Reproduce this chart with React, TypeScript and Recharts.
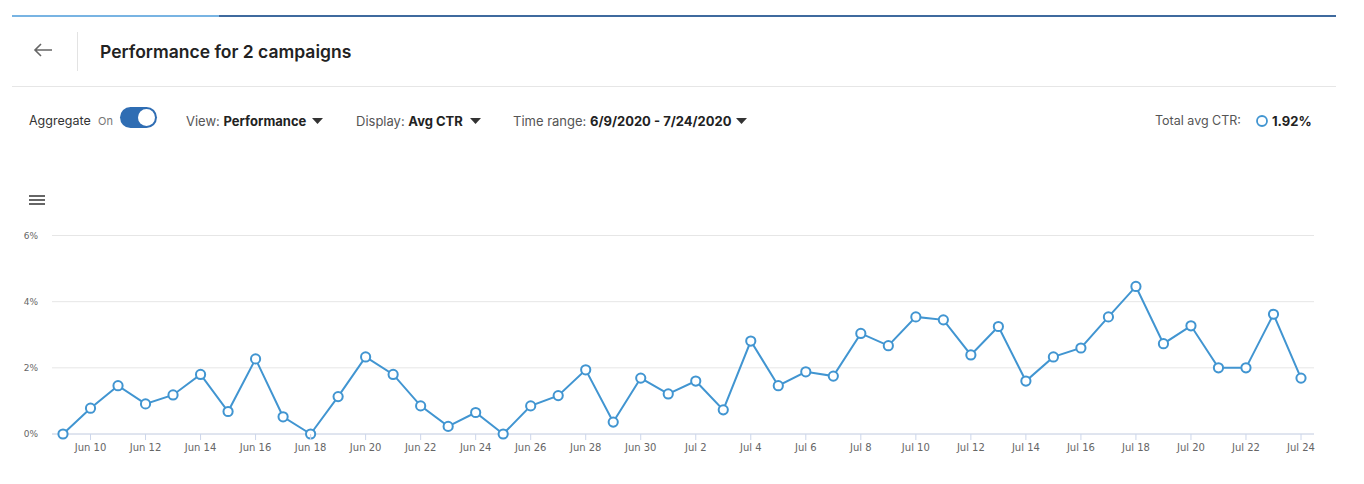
import React from 'react';
import { LineChart, Line, XAxis, YAxis, CartesianGrid } from 'recharts';

const DAYS = [
    'Jun 9', 'Jun 10', 'Jun 11', 'Jun 12', 'Jun 13', 'Jun 14', 'Jun 15', 'Jun 16', 'Jun 17', 'Jun 18',
    'Jun 19', 'Jun 20', 'Jun 21', 'Jun 22', 'Jun 23', 'Jun 24', 'Jun 25', 'Jun 26', 'Jun 27', 'Jun 28',
    'Jun 29', 'Jun 30', 'Jul 1', 'Jul 2', 'Jul 3', 'Jul 4', 'Jul 5', 'Jul 6', 'Jul 7', 'Jul 8',
    'Jul 9', 'Jul 10', 'Jul 11', 'Jul 12', 'Jul 13', 'Jul 14', 'Jul 15', 'Jul 16', 'Jul 17', 'Jul 18',
    'Jul 19', 'Jul 20', 'Jul 21', 'Jul 22', 'Jul 23', 'Jul 24',
];

// avg CTR in %
const CTR = [
    0, 0.78, 1.46, 0.91, 1.18, 1.8, 0.68, 2.27, 0.52, 0,
    1.13, 2.33, 1.8, 0.85, 0.23, 0.65, 0, 0.85, 1.16, 1.94,
    0.36, 1.69, 1.21, 1.6, 0.73, 2.81, 1.46, 1.88, 1.75, 3.04,
    2.67, 3.54, 3.45, 2.39, 3.25, 1.6, 2.33, 2.6, 3.54, 4.46,
    2.73, 3.27, 2.0, 2.0, 3.62, 1.69,
];

const Y_TICKS = [0, 2, 4, 6];
// labelled days (every other day)
const LABELLED_DAYS = DAYS.filter((_, i) => i % 2 === 1);

const LINE_COLOR = '#4195d1';
const UI_FONT = 'Inter, "Open Sans", sans-serif';
const AXIS_FONT = '"DejaVu Sans", Verdana, sans-serif';

const data = DAYS.map((day, i) => ({ day, ctr: CTR[i] }));

function DayTick({ x, y, payload }: { x?: number; y?: number; payload?: { value: string } }) {
    if (!payload || !LABELLED_DAYS.includes(payload.value)) return null;
    return (
        <g>
            <line x1={x} x2={x} y1={y} y2={(y ?? 0) + 6} stroke="#ccd6eb" />
            <text
                x={x}
                y={(y ?? 0) + 17}
                textAnchor="middle"
                fontSize={10}
                fill="#666"
                fontFamily={AXIS_FONT}
            >
                {payload.value}
            </text>
        </g>
    );
}

function Caret({ left }: { left: number }) {
    return (
        <svg style={{ position: 'absolute', left, top: 118 }} width={11} height={6}>
            <polygon points="0,0 11,0 5.5,6" fill="#333" />
        </svg>
    );
}

const rowText: React.CSSProperties = {
    position: 'absolute',
    top: 112,
    height: 18,
    lineHeight: '18px',
    fontSize: 13,
    color: '#555',
    whiteSpace: 'nowrap',
};

export default function App() {
    return (
        <div
            style={{
                position: 'absolute',
                left: 0,
                top: 0,
                width: 1364,
                height: 484,
                background: '#fff',
                fontFamily: UI_FONT,
                overflow: 'hidden',
            }}
        >
            {/* top accent line */}
            <div style={{ position: 'absolute', left: 12, top: 15, width: 207, height: 2, background: '#78b4e3' }} />
            <div style={{ position: 'absolute', left: 219, top: 15, width: 1117, height: 2, background: '#3f6a9e' }} />

            {/* header */}
            <svg style={{ position: 'absolute', left: 32, top: 42 }} width={22} height={16}>
                <path d="M20 8 H3 M9 2 L3 8 L9 14" stroke="#666" strokeWidth={1.6} fill="none" />
            </svg>
            <div style={{ position: 'absolute', left: 77, top: 32, width: 1, height: 39, background: '#e3e3e3' }} />
            <div
                style={{
                    position: 'absolute',
                    left: 100,
                    top: 41,
                    lineHeight: '22px',
                    fontSize: 17.5,
                    fontWeight: 600,
                    color: '#222',
                    whiteSpace: 'nowrap',
                }}
            >
                Performance for 2 campaigns
            </div>
            <div style={{ position: 'absolute', left: 12, top: 86, width: 1324, height: 1, background: '#e6e6e6' }} />

            {/* controls row */}
            <div style={{ ...rowText, left: 29, color: '#333', fontSize: 12.5 }}>Aggregate</div>
            <div style={{ ...rowText, left: 98, fontSize: 11, color: '#777' }}>On</div>
            <div
                style={{
                    position: 'absolute',
                    left: 120,
                    top: 107,
                    width: 37,
                    height: 21,
                    borderRadius: 11,
                    background: '#2f6db3',
                }}
            >
                <div
                    style={{
                        position: 'absolute',
                        left: 18,
                        top: 2,
                        width: 17,
                        height: 17,
                        borderRadius: 9,
                        background: '#fff',
                    }}
                />
            </div>
            <div style={{ ...rowText, left: 186 }}>
                View: <b style={{ color: '#222' }}>Performance</b>
            </div>
            <Caret left={312} />
            <div style={{ ...rowText, left: 356 }}>
                Display: <b style={{ color: '#222' }}>Avg CTR</b>
            </div>
            <Caret left={470} />
            <div style={{ ...rowText, left: 513 }}>
                Time range: <b style={{ color: '#222' }}>6/9/2020 - 7/24/2020</b>
            </div>
            <Caret left={736} />
            <div style={{ ...rowText, left: 1155, fontSize: 12.5 }}>Total avg CTR:</div>
            <svg style={{ position: 'absolute', left: 1255, top: 114 }} width={14} height={14}>
                <circle cx={7} cy={7} r={5} fill="#fff" stroke={LINE_COLOR} strokeWidth={1.8} />
            </svg>
            <div style={{ ...rowText, left: 1272, fontWeight: 700, color: '#222' }}>1.92%</div>

            {/* menu icon */}
            <svg style={{ position: 'absolute', left: 29, top: 194 }} width={16} height={13}>
                <rect x={0} y={1} width={16} height={2} fill="#666" />
                <rect x={0} y={5} width={16} height={2} fill="#666" />
                <rect x={0} y={9} width={16} height={2} fill="#666" />
            </svg>

            <div style={{ position: 'absolute', left: 0, top: 200 }}>
                <LineChart
                    width={1364}
                    height={270}
                    data={data}
                    margin={{ top: 35.5, right: 50, bottom: 6, left: 0 }}
                >
                    <CartesianGrid vertical={false} stroke="#e6e6e6" />
                    <XAxis
                        dataKey="day"
                        interval={0}
                        height={30}
                        tickSize={0}
                        tickMargin={0}
                        tickLine={false}
                        axisLine={{ stroke: '#ccd6eb' }}
                        padding={{ left: 11, right: 13 }}
                        tick={<DayTick />}
                    />
                    <YAxis
                        width={52}
                        domain={[0, 6]}
                        ticks={Y_TICKS}
                        axisLine={false}
                        tickLine={false}
                        tickSize={0}
                        tickMargin={14}
                        tickFormatter={(v) => `${v}%`}
                        tick={{ fontSize: 9, fill: '#666', fontFamily: AXIS_FONT }}
                    />
                    <Line
                        type="linear"
                        dataKey="ctr"
                        stroke={LINE_COLOR}
                        strokeWidth={2}
                        dot={{ r: 4.6, fill: '#fff', stroke: LINE_COLOR, strokeWidth: 2 }}
                        isAnimationActive={false}
                    />
                </LineChart>
            </div>
        </div>
    );
}
